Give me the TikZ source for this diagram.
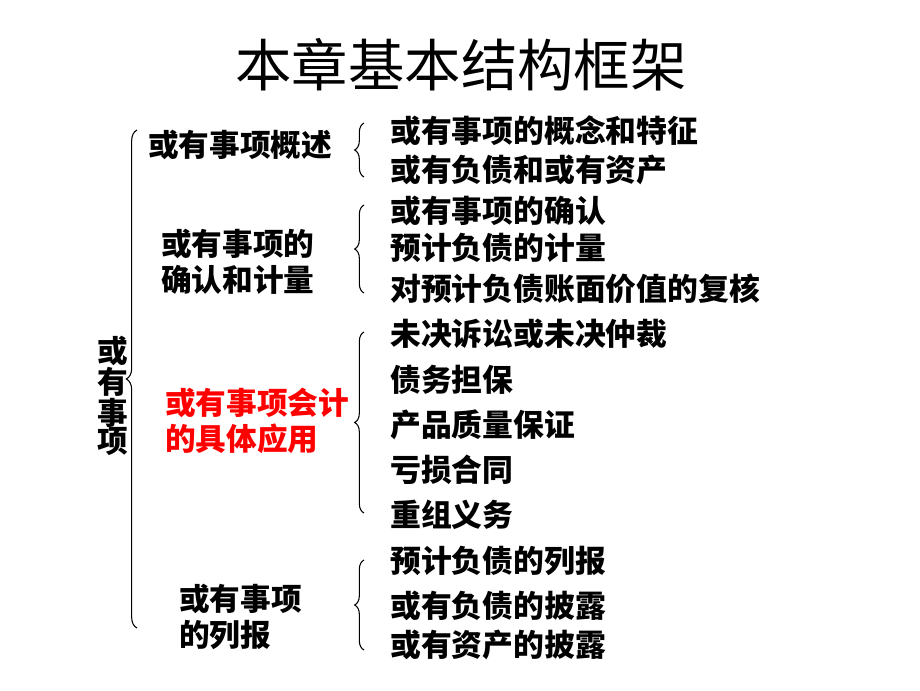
\documentclass[tikz,border=0pt]{standalone}
\usepackage{fontspec}
\newfontfamily\cjk{Noto Sans CJK SC}
\usetikzlibrary{decorations.pathreplacing}
\definecolor{hired}{RGB}{255,0,0}
\tikzset{
  titlestyle/.style={font=\cjk\fontsize{42.3}{48}\selectfont, inner sep=0pt},
  item/.style={anchor=west, inner sep=0pt, font=\cjk\bfseries\fontsize{23.1}{28}\selectfont, align=left},
  lvl/.style={anchor=west, inner sep=0pt, font=\cjk\bfseries\fontsize{23}{27}\selectfont, align=left},
  bracestyle/.style={draw=black, line width=0.8pt, decorate, decoration={brace, amplitude=7pt, aspect=0.5}}
}
\begin{document}
\begin{tikzpicture}[x=0.75pt, y=-0.75pt]
\useasboundingbox (0,0) rectangle (920,690);
\fill[white] (0,0) rectangle (920,690);
\node[titlestyle] (title) at (461,65) {本章基本结构框架};

% top level
\node[inner sep=0pt, font=\cjk\bfseries\fontsize{23}{21.5}\selectfont, align=center] (root) at (113,396) {或\\有\\事\\项};
\coordinate (bigtop) at (137,130);
\coordinate (bigbot) at (137,628);
\draw[bracestyle, decoration={amplitude=8pt}] (bigbot) -- (bigtop);

% level 2
\node[lvl] (g1) at (148,145) {或有事项概述};
\node[lvl] (g2) at (161,262) {或有事项的\\确认和计量};
\node[lvl, text=hired] (g3) at (165,421) {或有事项会计\\的具体应用};
\node[lvl] (g4) at (179,617) {或有事项\\的列报};

% braces for level 3
\coordinate (b1t) at (364,123); \coordinate (b1b) at (364,177);
\coordinate (b2t) at (364,205); \coordinate (b2b) at (364,293);
\coordinate (b3t) at (364,332); \coordinate (b3b) at (364,513);
\coordinate (b4t) at (364,560); \coordinate (b4b) at (364,650);
\draw[bracestyle] (b1b) -- (b1t);
\draw[bracestyle] (b2b) -- (b2t);
\draw[bracestyle] (b3b) -- (b3t);
\draw[bracestyle] (b4b) -- (b4t);

% level 3 items
\node[item] (i1) at (390,131) {或有事项的概念和特征};
\node[item] (i2) at (390,170) {或有负债和或有资产};
\node[item] (i3) at (390,211) {或有事项的确认};
\node[item] (i4) at (390,248) {预计负债的计量};
\node[item] (i5) at (390,289) {对预计负债账面价值的复核};
\node[item] (i6) at (390,334) {未决诉讼或未决仲裁};
\node[item] (i7) at (390,380) {债务担保};
\node[item] (i8) at (390,425) {产品质量保证};
\node[item] (i9) at (390,470) {亏损合同};
\node[item] (i10) at (390,515) {重组义务};
\node[item] (i11) at (390,561) {预计负债的列报};
\node[item] (i12) at (390,606) {或有负债的披露};
\node[item] (i13) at (390,645) {或有资产的披露};
\end{tikzpicture}
\end{document}
